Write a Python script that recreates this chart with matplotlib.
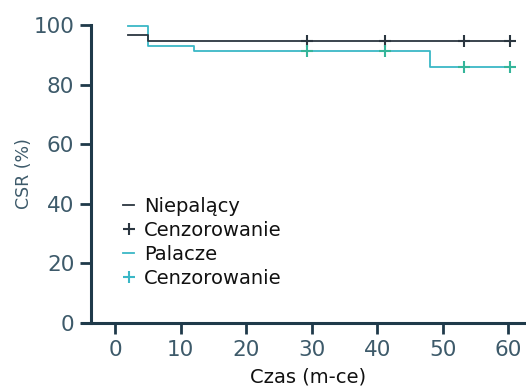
import matplotlib
matplotlib.use("Agg")
import matplotlib.pyplot as plt
from matplotlib.lines import Line2D

# Data
ns_times = [2, 5, 60.5]
ns_surv = [96.6, 94.5, 94.5]
ns_cens_t = [29.3, 41.2, 53.3, 60.3]
ns_cens_s = [94.5, 94.5, 94.5, 94.5]

sm_times = [2, 5, 12, 48, 60.5]
sm_surv = [99.5, 93.0, 91.3, 86.0, 86.0]
sm_cens_t = [29.3, 41.2, 53.3, 60.3]
sm_cens_s = [91.3, 91.3, 86.0, 86.0]

xticks = [0, 10, 20, 30, 40, 50, 60]
yticks = [0, 20, 40, 60, 80, 100]
labels = ["Niepalący", "Cenzorowanie", "Palacze", "Cenzorowanie"]

c_black = "#2b3640"
c_cyan = "#3ab7c6"
c_cyan_m = "#35b59a"
c_axis = "#1f3a4a"
c_tick = "#3d5a6a"

fig = plt.figure(figsize=(5.26, 3.9), dpi=100)
ax = fig.add_axes([0.173, 0.172, 0.827, 0.764])

ax.step(ns_times, ns_surv, where="post", color=c_black, lw=1.3, zorder=3)
ax.step(sm_times, sm_surv, where="post", color=c_cyan, lw=1.3, zorder=2)
ax.plot(ns_cens_t, ns_cens_s, ls="none", marker="+", ms=8, mew=1.5, color=c_black, zorder=4)
ax.plot(sm_cens_t, sm_cens_s, ls="none", marker="+", ms=8, mew=1.5, color=c_cyan_m, zorder=4)

ax.set_xlim(-3.7, 62.7)
ax.set_ylim(0, 100)
ax.set_xticks(xticks)
ax.set_yticks(yticks)

for s in ["top", "right"]:
    ax.spines[s].set_visible(False)
ax.spines["left"].set_color(c_axis)
ax.spines["bottom"].set_color(c_axis)
ax.spines["left"].set_linewidth(2.2)
ax.spines["bottom"].set_linewidth(2.2)
ax.spines["bottom"].set_bounds(-5.1, 62.7)
ax.tick_params(axis="both", direction="out", length=8, width=2, color=c_axis,
               labelcolor=c_tick, labelsize=15.5, pad=4)

ax.set_xlabel("Czas (m-ce)", fontsize=14, color="#111111", labelpad=6)
ax.set_ylabel("CSR (%)", fontsize=12.5, color=c_tick, labelpad=0)

handles = [
    Line2D([], [], color=c_black, lw=1.3),
    Line2D([], [], ls="none", marker="+", ms=9, mew=1.5, color=c_black),
    Line2D([], [], color=c_cyan, lw=1.3),
    Line2D([], [], ls="none", marker="+", ms=9, mew=1.5, color=c_cyan),
]
leg = ax.legend(handles, labels, loc="upper left", bbox_to_anchor=(0.055, 0.448),
                frameon=False, fontsize=14, handlelength=0.6, handletextpad=0.5,
                labelspacing=0.25, borderaxespad=0)
for t in leg.get_texts():
    t.set_color("#111111")

fig.savefig("out.png", dpi=100, facecolor="white")
